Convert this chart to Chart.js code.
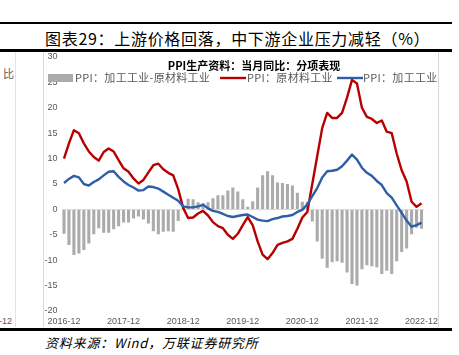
<!DOCTYPE html>
<html><head><meta charset="utf-8">
<script src="https://cdn.jsdelivr.net/npm/chart.js@4.4.1/dist/chart.umd.min.js"></script>
<style>
html,body{margin:0;padding:0;background:#fff;width:459px;height:355px;overflow:hidden;position:relative;font-family:"Noto Sans CJK SC",sans-serif;}
.abs{position:absolute;white-space:nowrap;}
</style></head><body>
<div class="abs" style="left:0;top:22px;width:452px;height:2px;background:#000"></div>
<div class="abs" style="left:45px;top:28px;font-size:16px;line-height:20px;color:#000;letter-spacing:0.7px">图表29：上游价格回落，中下游企业压力减轻（%）</div>
<div class="abs" style="left:0;top:49px;width:452px;height:3px;background:#000"></div>
<div class="abs" style="left:15px;top:52px;width:1px;height:275px;background:#e3e3e3"></div>
<div class="abs" style="left:43px;top:52px;width:1px;height:275px;background:#d9d9d9"></div>
<div class="abs" style="left:438px;top:52px;width:1px;height:275px;background:#d9d9d9"></div>
<div class="abs" style="left:3px;top:65px;font-size:11px;line-height:16px;color:#595959">比</div>
<div class="abs" style="left:-1px;top:315px;font-size:9px;line-height:12px;color:#595959;font-family:'Liberation Sans'">-12</div>
<div class="abs" style="left:0;top:328px;width:452px;height:3px;background:#000"></div>
<div class="abs" style="left:45px;top:334px;font-size:13px;line-height:18px;color:#000;font-style:italic;letter-spacing:0.8px">资料来源：Wind，万联证券研究所</div>
<canvas id="c" width="459" height="355" style="position:absolute;left:0;top:0"></canvas>
<script>
const chartTitle = 'PPI生产资料：当月同比：分项表现';
const seriesNames = ['PPI：加工工业-原材料工业', 'PPI：原材料工业', 'PPI：加工工业'];
const months = [
 '2016-12','2017-01','2017-02','2017-03','2017-04','2017-05','2017-06','2017-07','2017-08','2017-09','2017-10','2017-11',
 '2017-12','2018-01','2018-02','2018-03','2018-04','2018-05','2018-06','2018-07','2018-08','2018-09','2018-10','2018-11',
 '2018-12','2019-01','2019-02','2019-03','2019-04','2019-05','2019-06','2019-07','2019-08','2019-09','2019-10','2019-11',
 '2019-12','2020-01','2020-02','2020-03','2020-04','2020-05','2020-06','2020-07','2020-08','2020-09','2020-10','2020-11',
 '2020-12','2021-01','2021-02','2021-03','2021-04','2021-05','2021-06','2021-07','2021-08','2021-09','2021-10','2021-11',
 '2021-12','2022-01','2022-02','2022-03','2022-04','2022-05','2022-06','2022-07','2022-08','2022-09','2022-10','2022-11','2022-12'
];
const tickLabels = ['2016-12','2017-12','2018-12','2019-12','2020-12','2021-12','2022-12'];
const rawValues = [
 10.0,13.0,15.6,15.0,13.0,11.4,10.3,9.6,11.3,12.0,11.4,9.7,
 8.1,7.4,6.1,5.1,5.8,7.3,8.7,9.0,7.9,7.2,6.7,4.0,
 0.3,-1.7,-1.6,-0.8,-0.3,-1.2,-2.5,-3.3,-3.7,-5.0,-5.8,-4.8,
 -3.1,-1.5,-3.1,-6.3,-8.9,-9.8,-8.6,-7.0,-6.6,-6.3,-5.8,-3.8,
 -1.6,-0.5,5.0,10.5,16.0,19.0,18.0,18.0,19.0,22.0,25.5,24.8,
 20.0,18.2,17.8,17.0,17.5,15.3,15.0,11.0,7.7,5.5,1.5,0.5,1.2
];
const procValues = [
 5.2,6.0,6.6,6.3,5.0,4.7,5.4,5.9,6.7,7.4,7.5,6.4,
 5.5,4.8,4.3,3.7,3.8,4.5,4.4,4.1,3.5,2.9,2.3,1.7,
 0.6,0.4,0.4,0.6,0.9,0.2,-0.3,-0.5,-0.9,-1.3,-1.5,-1.3,
 -1.1,-1.0,-1.5,-2.0,-2.2,-2.3,-1.9,-1.7,-1.4,-1.3,-1.1,-0.5,
 -0.1,1.0,2.6,4.2,6.3,7.5,7.6,7.8,8.5,9.6,10.8,9.8,
 8.2,7.2,6.6,5.6,4.8,3.2,2.3,0.8,-0.7,-2.2,-3.4,-3.1,-2.6
];
const spreadValues = [
 -4.8,-7.0,-9.0,-8.7,-8.0,-6.7,-4.9,-3.7,-4.6,-4.6,-3.9,-3.3,
 -2.6,-2.6,-1.8,-1.4,-2.0,-2.8,-4.3,-4.9,-4.4,-4.3,-4.4,-2.3,
 0.3,2.1,2.0,1.4,1.2,1.4,2.2,2.8,2.8,3.7,4.3,3.5,
 2.0,0.5,1.6,4.3,6.7,7.5,6.7,5.3,5.2,5.0,4.7,3.3,
 1.5,1.5,-2.4,-6.3,-9.7,-11.5,-10.4,-10.2,-10.5,-12.4,-14.7,-15.0,
 -11.8,-11.0,-11.2,-11.4,-12.7,-12.1,-12.7,-10.2,-8.4,-7.7,-4.9,-3.6,-3.8
];

const overlay = {
  id: 'overlay',
  afterDraw(chart) {
    const ctx = chart.ctx;
    const ds = chart.data.datasets;
    ctx.save();
    ctx.textBaseline = 'middle';
    ctx.fillStyle = '#000';
    ctx.textAlign = 'center';
    ctx.font = 'bold 11px "Noto Sans CJK SC"';
    ctx.fillText(chartTitle, 254, 66);
    ctx.textAlign = 'left';
    ctx.font = '11px "Noto Sans CJK SC"';
    try { ctx.letterSpacing = '0.3px'; } catch (e) {}
    const ly = 78;
    ctx.fillStyle = ds[0].backgroundColor;
    ctx.fillRect(48, ly - 4, 25, 8);
    ctx.fillStyle = '#595959';
    ctx.fillText(ds[0].label, 75, ly);
    const items = [[1, 220, 247], [2, 337, 363]];
    items.forEach(([k, x0, tx]) => {
      ctx.strokeStyle = ds[k].borderColor;
      ctx.lineWidth = ds[k].borderWidth;
      ctx.beginPath(); ctx.moveTo(x0, ly); ctx.lineTo(x0 + 26, ly); ctx.stroke();
      ctx.fillStyle = '#595959';
      ctx.fillText(ds[k].label, tx, ly);
    });
    ctx.restore();
  }
};

new Chart(document.getElementById('c'), {
  data: {
    labels: months,
    datasets: [
      {type: 'bar', label: seriesNames[0], data: spreadValues, backgroundColor: '#ababab', borderWidth: 0,
       categoryPercentage: 1, barPercentage: 0.62, order: 3},
      {type: 'line', label: seriesNames[1], data: rawValues, borderColor: '#b80000', borderWidth: 2.4,
       pointRadius: 0, tension: 0, fill: false, borderJoinStyle: 'round', order: 2},
      {type: 'line', label: seriesNames[2], data: procValues, borderColor: '#2e5ea8', borderWidth: 2.4,
       pointRadius: 0, tension: 0, fill: false, borderJoinStyle: 'round', order: 1}
    ]
  },
  options: {
    responsive: false, animation: false, devicePixelRatio: 1,
    layout: {padding: {left: 0, top: 57, right: 35, bottom: 28}},
    plugins: {legend: {display: false}, title: {display: false}, tooltip: {enabled: false}},
    scales: {
      x: {
        type: 'category', offset: true,
        grid: {display: false, drawTicks: false}, border: {display: false},
        ticks: {autoSkip: false, maxRotation: 0, minRotation: 0, padding: 5, color: '#595959',
          font: {family: 'Liberation Sans', size: 9},
          callback: function (v) { const l = this.getLabelForValue(v); return tickLabels.includes(l) ? l : ''; }},
        afterFit: s => { s.height = 16; }
      },
      y: {
        min: -20, max: 30,
        ticks: {stepSize: 5, padding: 4, color: '#595959', font: {family: 'Liberation Sans', size: 9}},
        grid: {drawTicks: false, lineWidth: 1,
          color: c => (c.tick && c.tick.value === 0) ? '#d9d9d9' : 'rgba(0,0,0,0)'},
        border: {display: false},
        afterFit: s => { s.width = 61.5; }
      }
    }
  },
  plugins: [overlay]
});
</script>
</body></html>
